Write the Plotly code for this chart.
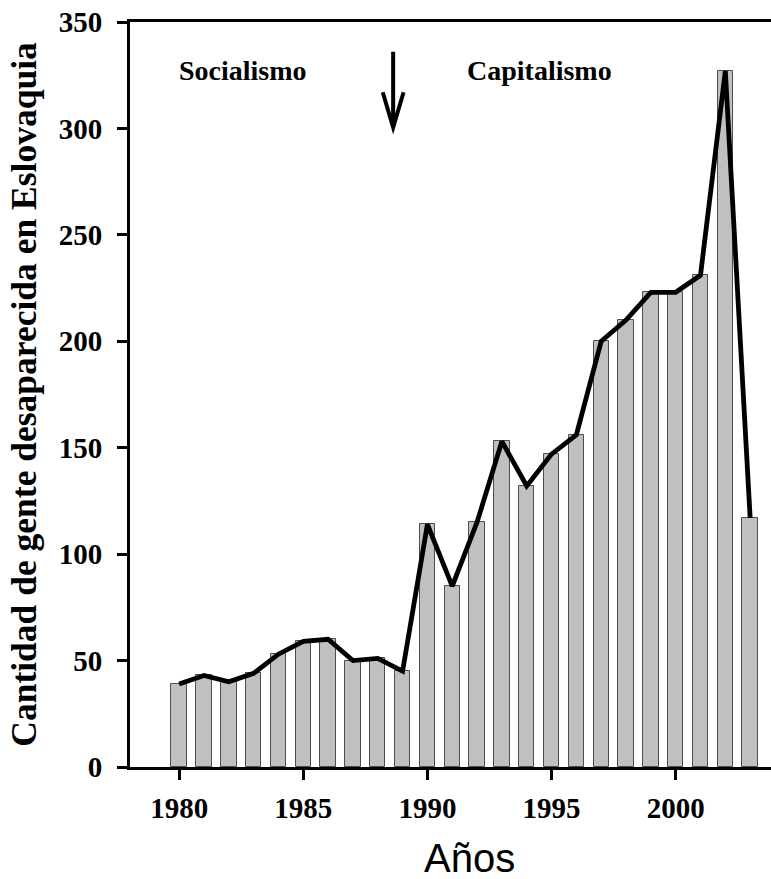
import plotly.graph_objects as go

# Missing persons in Slovakia per year
years = list(range(1980, 2004))
counts = [39, 43, 40, 44, 53, 59, 60, 50, 51, 45, 114, 85, 115,
          153, 132, 147, 156, 200, 210, 223, 223, 231, 327, 117]

x_ticks = [1980, 1985, 1990, 1995, 2000]
y_ticks = [0, 50, 100, 150, 200, 250, 300, 350]

serif = "Liberation Serif"

fig = go.Figure()

fig.add_trace(go.Bar(
    x=years, y=counts, width=0.62,
    marker=dict(color="#c0c0c0", line=dict(color="#4d4d4d", width=1)),
    showlegend=False,
))
fig.add_trace(go.Scatter(
    x=years, y=counts, mode="lines",
    line=dict(color="black", width=4.8),
    showlegend=False,
))

# text labels and the 1989 arrow
fig.add_annotation(x=1982.58, y=327, text="Socialismo", showarrow=False,
                   font=dict(family=serif, size=28, weight="bold", color="black"))
fig.add_annotation(x=1994.5, y=327, text="Capitalismo", showarrow=False,
                   font=dict(family=serif, size=28, weight="bold", color="black"))
ax, y_top, y_tip, y_head, half = 1988.62, 336, 300.5, 317, 0.42
fig.add_shape(type="path",
              path=f"M {ax},{y_top} L {ax},{y_tip} M {ax-half},{y_head} L {ax},{y_tip} L {ax+half},{y_head}",
              line=dict(color="black", width=4), xref="x", yref="y")

fig.add_annotation(x=0.529, y=-0.122, xref="paper", yref="paper", text="Años",
                   showarrow=False, yanchor="middle",
                   font=dict(family="Liberation Sans", size=40, color="black"))

fig.update_layout(
    width=771, height=879,
    margin=dict(l=130, r=0, t=22, b=112),
    plot_bgcolor="white", paper_bgcolor="white",
    bargap=0,
    xaxis=dict(
        range=[1978.02, 2003.84], tickvals=x_ticks,
        showline=True, linecolor="black", linewidth=3, mirror=True,
        ticks="outside", ticklen=10, tickwidth=2.5, tickcolor="black",
        ticklabelstandoff=3,
        tickfont=dict(family=serif, size=29, weight="bold", color="black"),
        showgrid=False, zeroline=False,
    ),
    yaxis=dict(
        range=[0, 350], tickvals=y_ticks,
        showline=True, linecolor="black", linewidth=3,
        ticks="outside", ticklen=10, tickwidth=2.5, tickcolor="black",
        ticklabelstandoff=9,
        tickfont=dict(family=serif, size=29, weight="bold", color="black"),
        title=dict(text="Cantidad de gente desaparecida en Eslovaquia", standoff=12,
                   font=dict(family=serif, size=35.5, weight="bold", color="black")),
        showgrid=False, zeroline=False,
    ),
)

fig.write_html("out.html", config={"displayModeBar": False},
               post_script="document.body.style.margin='0';")
